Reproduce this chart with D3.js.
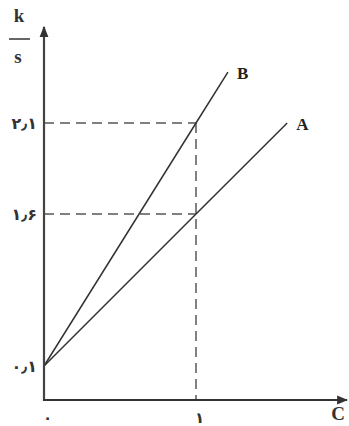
<!DOCTYPE html>
<html><head><meta charset="utf-8">
<script src="https://cdn.jsdelivr.net/npm/d3@7"></script>
<style>body{margin:0;background:#fff}svg{display:block}</style>
</head><body>
<svg id="c" width="349" height="426"></svg>
<script>
const yTicks = [0.1, 1.6, 2.1];
const xTicks = [0, 1];
const lineA = [[0, 0.1], [1, 1.6], [1.6, 2.1]];
const lineB = [[0, 0.1], [1, 2.1], [1.21, 2.38]];
const guides = [[1, 1.6], [1, 2.1]];
const seriesNames = ["A", "B"];

const svg = d3.select("#c");
const x = d3.scaleLinear().domain([0, 1]).range([44, 196]);
// schematic (non-uniform) vertical axis, as in the source drawing
const y = d3.scaleLinear().domain([0, 0.1, 1.6, 2.1]).range([400, 366, 214, 123]);

const fa = v => String(v).replace(/\d/g, d => "۰۱۲۳۴۵۶۷۸۹"[d]).replace(".", "٫");

// guides
guides.forEach(([gx, gy]) => {
  svg.append("line").attr("x1", x(0)).attr("x2", x(gx)).attr("y1", y(gy)).attr("y2", y(gy))
    .attr("stroke", "#808080").attr("stroke-width", 2).attr("stroke-dasharray", "10,6");
});
svg.append("line").attr("x1", x(1)).attr("x2", x(1)).attr("y1", y(2.1)).attr("y2", y(0))
  .attr("stroke", "#808080").attr("stroke-width", 2).attr("stroke-dasharray", "10,6");

// lines
const lg = d3.line().x(d => x(d[0])).y(d => y(d[1]));
[lineA, lineB].forEach((data, i) => {
  svg.append("path").attr("d", lg(data)).attr("fill", "none")
    .attr("stroke", "#333").attr("stroke-width", 1.5);
  const e = data[data.length - 1];
  svg.append("text").attr("x", x(e[0]) + 9).attr("y", y(e[1]) + 7)
    .attr("font-family", "Liberation Serif").attr("font-weight", "bold")
    .attr("font-size", 17).attr("fill", "#222").text(seriesNames[i]);
});

// axes
svg.append("defs").append("marker").attr("id", "ar").attr("viewBox", "0 0 10 10")
  .attr("refX", 9).attr("refY", 5).attr("markerWidth", 5).attr("markerHeight", 5)
  .attr("markerUnits", "strokeWidth").attr("orient", "auto")
  .append("path").attr("d", "M0,1 L10,5 L0,9 Z").attr("fill", "#333");
svg.append("line").attr("x1", x(0)).attr("y1", y(0) + 1).attr("x2", x(0)).attr("y2", 27)
  .attr("stroke", "#444").attr("stroke-width", 2.2).attr("marker-end", "url(#ar)");
svg.append("line").attr("x1", x(0) - 1).attr("y1", y(0)).attr("x2", 347).attr("y2", y(0))
  .attr("stroke", "#333").attr("stroke-width", 2.2).attr("marker-end", "url(#ar)");

const ya = svg.append("g").attr("transform", `translate(${x(0) - 4},0)`)
  .call(d3.axisLeft(y).tickValues(yTicks).tickSize(0).tickFormat(fa));
ya.select(".domain").remove();
ya.selectAll("text").attr("font-family", "DejaVu Sans").attr("font-weight", "bold")
  .attr("font-size", 16).attr("fill", "#333");

const xa = svg.append("g").attr("transform", `translate(0,${y(0)})`)
  .call(d3.axisBottom(x).tickValues(xTicks).tickSize(0).tickFormat(fa));
xa.select(".domain").remove();
xa.selectAll("text").attr("font-family", "DejaVu Sans").attr("font-weight", "bold")
  .attr("font-size", 15).attr("fill", "#333")
  .attr("dx", 3).attr("dy", null).attr("y", 23);

// axis titles
const t = svg.append("g").attr("font-family", "Liberation Serif").attr("font-weight", "bold")
  .attr("font-size", 19).attr("fill", "#333").attr("text-anchor", "middle");
t.append("text").attr("x", 19).attr("y", 22).text("k");
t.append("line").attr("x1", 9).attr("x2", 30).attr("y1", 39).attr("y2", 39)
  .attr("stroke", "#333").attr("stroke-width", 1.5);
t.append("text").attr("x", 18).attr("y", 63).text("s");
t.append("text").attr("x", 338).attr("y", 420).text("C");
</script>
</body></html>
